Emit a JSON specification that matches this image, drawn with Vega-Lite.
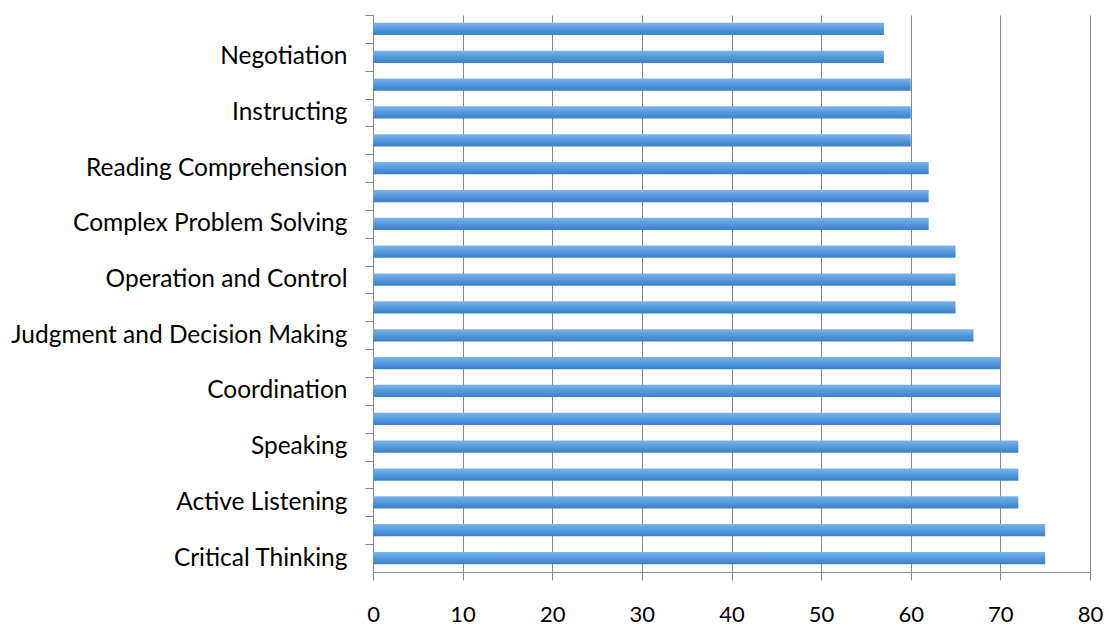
{
  "$schema": "https://vega.github.io/schema/vega-lite/v6.json",
  "width": 717,
  "height": 557,
  "autosize": {"type": "none"},
  "padding": {"left": 373, "top": 15, "right": 19, "bottom": 54},
  "background": "white",
  "config": {"view": {"stroke": null}, "font": "Lato"},
  "data": {
    "values": [
      {"skill": "Persuasion", "value": 57},
      {"skill": "Negotiation", "value": 57},
      {"skill": "Service Orientation", "value": 60},
      {"skill": "Instructing", "value": 60},
      {"skill": "Learning Strategies", "value": 60},
      {"skill": "Reading Comprehension", "value": 62},
      {"skill": "Writing", "value": 62},
      {"skill": "Complex Problem Solving", "value": 62},
      {"skill": "Active Learning", "value": 65},
      {"skill": "Operation and Control", "value": 65},
      {"skill": "Time Management", "value": 65},
      {"skill": "Judgment and Decision Making", "value": 67},
      {"skill": "Operation Monitoring", "value": 70},
      {"skill": "Coordination", "value": 70},
      {"skill": "Social Perceptiveness", "value": 70},
      {"skill": "Speaking", "value": 72},
      {"skill": "Monitoring", "value": 72},
      {"skill": "Active Listening", "value": 72},
      {"skill": "Systems Analysis", "value": 75},
      {"skill": "Critical Thinking", "value": 75}
    ]
  },
  "mark": {
    "type": "bar",
    "color": {
      "gradient": "linear",
      "x1": 0, "y1": 0, "x2": 0, "y2": 1,
      "stops": [
        {"offset": 0, "color": "#7cb4e8"},
        {"offset": 0.5, "color": "#5499dd"},
        {"offset": 1, "color": "#3b80c8"}
      ]
    }
  },
  "encoding": {
    "y": {
      "field": "skill",
      "type": "nominal",
      "sort": null,
      "title": null,
      "scale": {"paddingInner": 0.56, "paddingOuter": 0.28},
      "axis": {
        "domain": true,
        "domainColor": "#868686",
        "ticks": true,
        "tickColor": "#868686",
        "tickSize": 8,
        "tickOffset": -13.925,
        "labelOffset": 13.925,
        "labelFontSize": 24.5,
        "labelColor": "#000000",
        "labelPadding": 18,
        "labelLimit": 400,
        "labelExpr": "indexof(['Negotiation','Instructing','Reading Comprehension','Complex Problem Solving','Operation and Control','Judgment and Decision Making','Coordination','Speaking','Active Listening','Critical Thinking'], datum.value) >= 0 ? datum.label : ''"
      }
    },
    "x": {
      "field": "value",
      "type": "quantitative",
      "title": null,
      "scale": {"domain": [0, 80], "nice": false},
      "axis": {
        "values": [0, 10, 20, 30, 40, 50, 60, 70, 80],
        "grid": true,
        "gridColor": "#868686",
        "domainColor": "#868686",
        "tickColor": "#868686",
        "tickSize": 8,
        "labelFontSize": 22,
        "labelColor": "#000000",
        "labelPadding": 24,
        "labelFlush": false
      }
    }
  }
}
